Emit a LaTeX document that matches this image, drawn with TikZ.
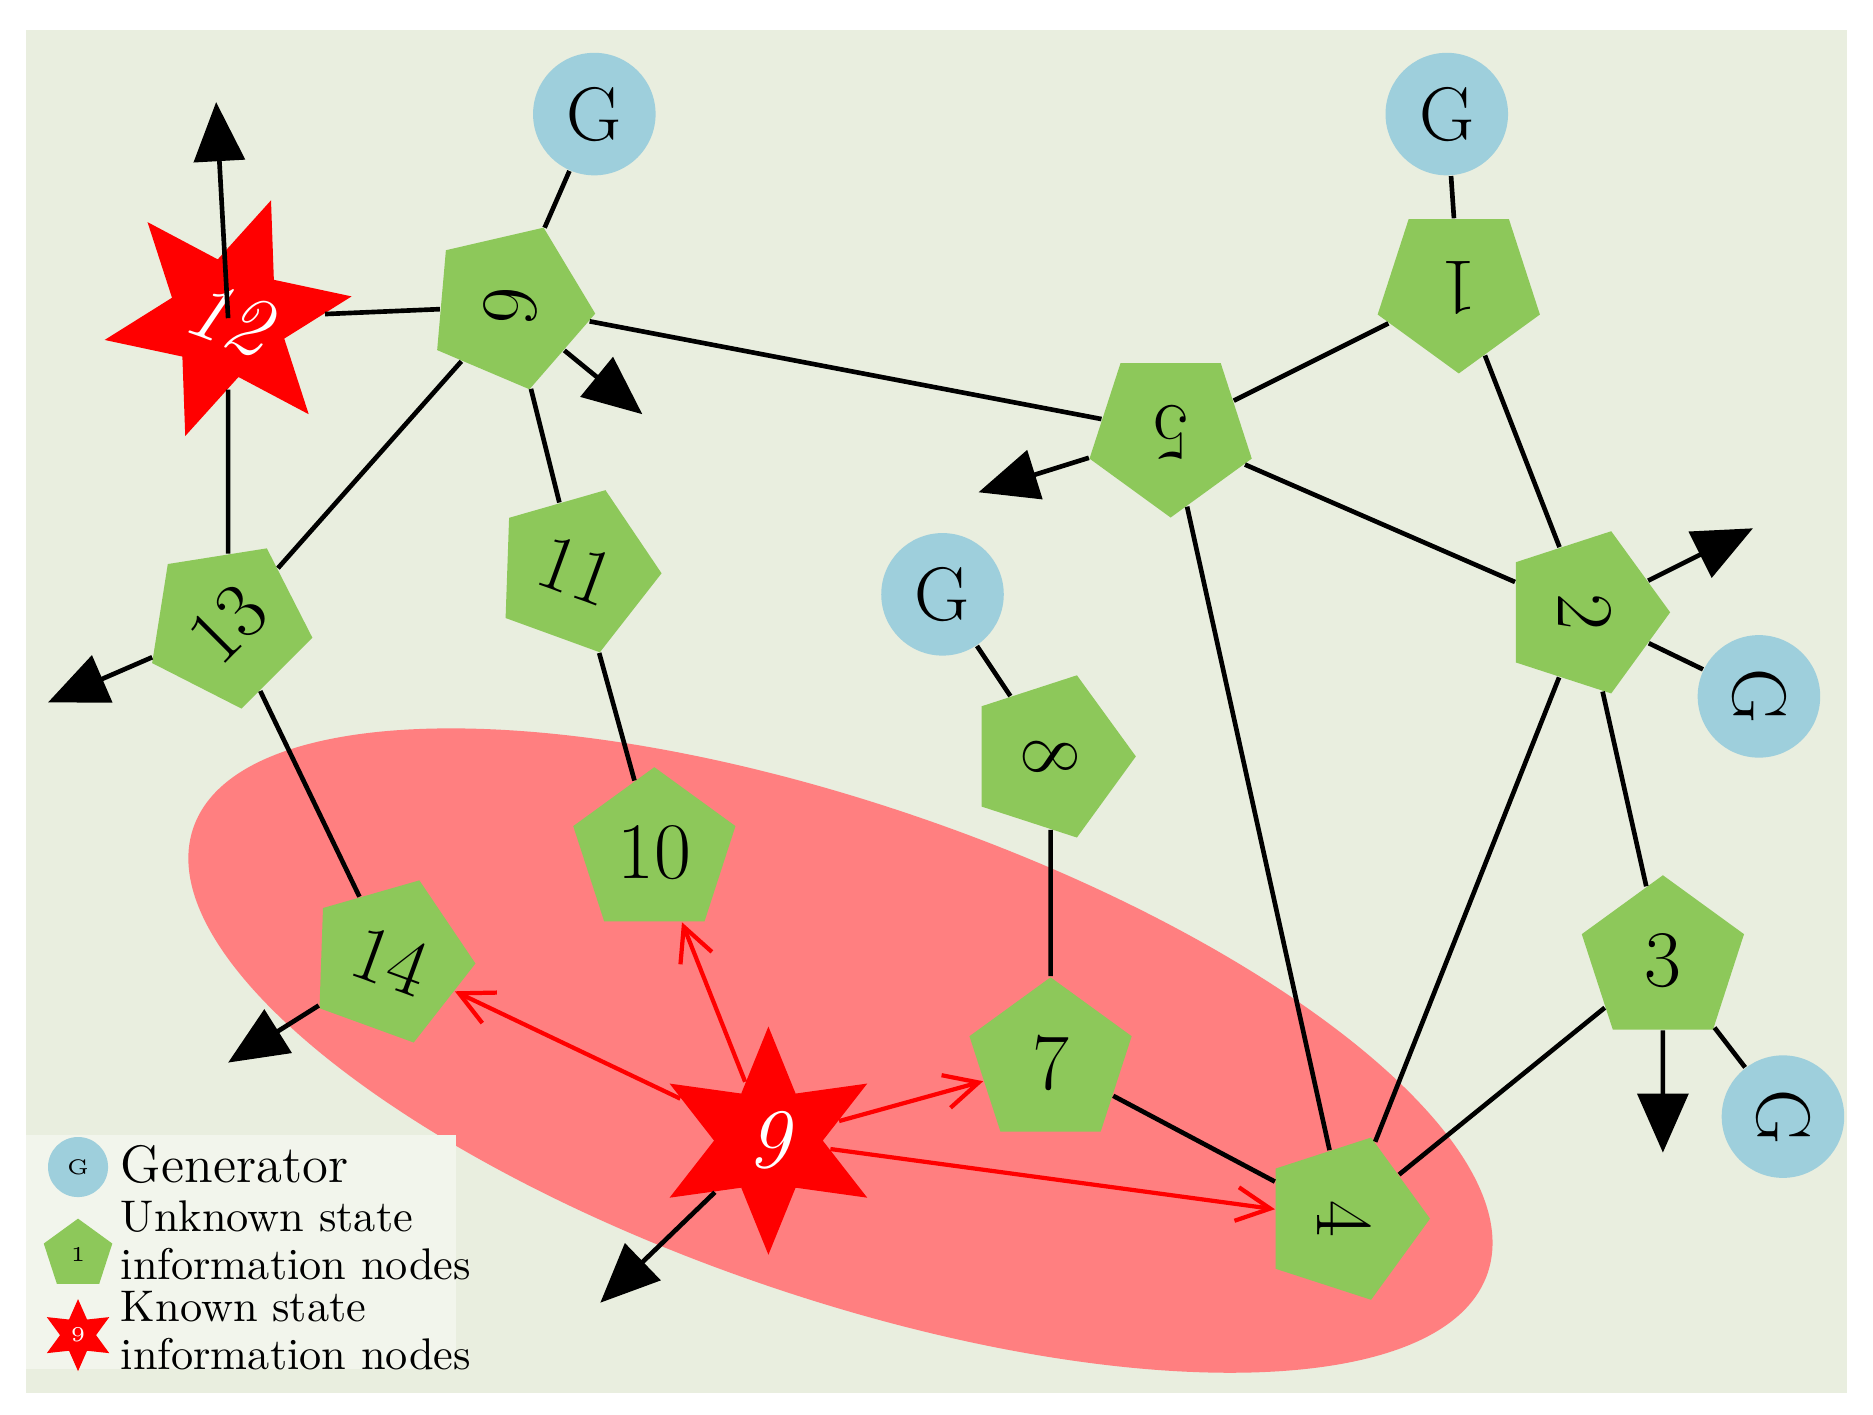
\documentclass[tikz,border=0pt]{standalone}
\usetikzlibrary{shapes.geometric,arrows.meta}
\definecolor{bg}{HTML}{E9EEDF}
\definecolor{gen}{HTML}{9ECFDC}
\definecolor{pent}{HTML}{8DC85A}
\definecolor{ell}{HTML}{FF7F80}
\begin{document}
\begin{tikzpicture}[x=0.01cm,y=-0.01cm,
 g/.style={circle,fill=gen,minimum size=1.02cm,inner sep=0pt,font=\fontsize{18}{22}\selectfont},
 p/.style={regular polygon,regular polygon sides=5,fill=pent,minimum size=1.42cm,inner sep=0pt,font=\fontsize{19}{22}\selectfont},
 s/.style={star,star points=6,star point ratio=2.1,fill=red,minimum size=1.9cm,inner sep=0pt,text=white,font=\fontsize{20}{24}\selectfont\itshape},
 e/.style={black,line width=1.1pt},
 oa/.style={black,line width=1.1pt,-{Triangle[length=14pt,width=12pt]}},
 ra/.style={red,line width=1pt,-{Straight Barb[length=8pt,width=8pt]}},
 lt/.style={anchor=west,inner sep=0pt,font=\fontsize{10.5}{12}\selectfont}]
\useasboundingbox (0,0) rectangle (1560,1178);
\fill[bg] (22,25) rectangle (1538,1160);
\fill[ell,rotate around={-19:(700,875)}] (700,875) ellipse [x radius=570,y radius=205];
\fill[bg!60!white] (22,945) rectangle (380,1140);
% nodes
\node[g] (G1) at (495,95) {G};
\node[g] (G2) at (1205,95) {G};
\node[g] (G3) at (785,495) {G};
\node[g] (G4) at (1465,580) {\rotatebox{-90}{G}};
\node[g] (G5) at (1485,930) {\rotatebox{-90}{G}};
\node[p,rotate=-95] (n6) at (425,255) {6};
\node[p,rotate=180] (n1) at (1215,240) {1};
\node[p,rotate=180] (n5) at (975,360) {5};
\node[p,rotate=45] (n13) at (190,520) {13};
\node[p,rotate=-20] (n11) at (480,475) {11};
\node[p,rotate=-90] (n2) at (1320,510) {2};
\node[p,rotate=-90] (n8) at (875,630) {8};
\node[p] (n10) at (545,710) {10};
\node[p,rotate=-20] (n14) at (325,800) {14};
\node[p] (n7) at (875,885) {7};
\node[p] (n3) at (1385,800) {3};
\node[p,rotate=-90] (n4) at (1120,1015) {4};
\node[s,rotate=-20] (n12) at (190,265) {12};
\node[s] (n9) at (640,950) {9};
% edges
\draw[e] (G1)--(n6); \draw[e] (n12)--(n6); \draw[e] (n12)--(n13);
\draw[e] (n6)--(n13); \draw[e] (n6)--(n11); \draw[e] (n6)--(n5);
\draw[e] (n11)--(n10); \draw[e] (G2)--(n1); \draw[e] (n1)--(n5);
\draw[e] (n1)--(n2); \draw[e] (n5)--(n2); \draw[e] (n5)--(n4);
\draw[e] (n2)--(G4); \draw[e] (n2)--(n4); \draw[e] (n2)--(n3);
\draw[e] (n3)--(G5); \draw[e] (n3)--(n4); \draw[e] (G3)--(n8);
\draw[e] (n8)--(n7); \draw[e] (n7)--(n4); \draw[e] (n13)--(n14);
% red arrows
\draw[ra] (n9)--(n14); \draw[ra] (n9)--(n10); \draw[ra] (n9)--(n7); \draw[ra] (n9)--(n4);
% outgoing arrows
\coordinate (a12) at (180,85); \coordinate (a6) at (535,345); \coordinate (a5) at (815,410);
\coordinate (a13) at (40,585); \coordinate (a2) at (1460,440); \coordinate (a3) at (1385,960);
\coordinate (a14) at (190,885); \coordinate (a9) at (500,1085);
\draw[oa] (n12.center)--(a12); \draw[oa] (n6)--(a6); \draw[oa] (n5)--(a5);
\draw[oa] (n13)--(a13); \draw[oa] (n2)--(a2); \draw[oa] (n3)--(a3);
\draw[oa] (n14)--(a14); \draw[oa] (n9)--(a9);
% legend
\node[g,minimum size=0.5cm,font=\tiny] (lg) at (65,972) {G};
\node[p,minimum size=0.6cm,font=\tiny] (lp) at (65,1045) {1};
\node[s,minimum size=0.6cm,star point ratio=2,font=\tiny] (ls) at (65,1112) {9};
\node[lt,font=\fontsize{12.5}{14}\selectfont] (lt1) at (100,970) {Generator};
\node[lt] (lt2) at (100,1013) {Unknown state};
\node[lt] (lt3) at (100,1053) {information nodes};
\node[lt] (lt4) at (100,1088) {Known state};
\node[lt] (lt5) at (100,1128) {information nodes};
\end{tikzpicture}
\end{document}
